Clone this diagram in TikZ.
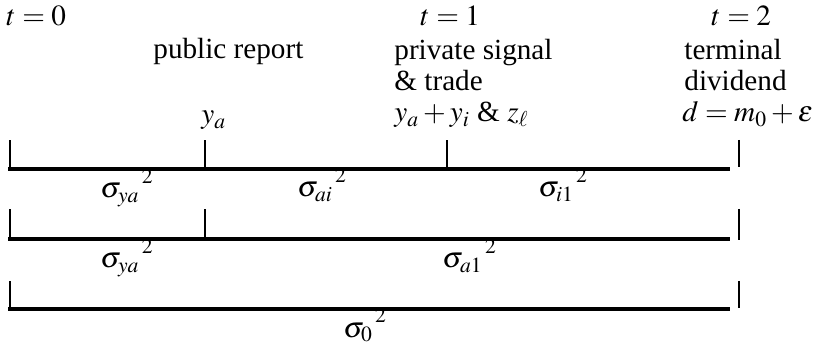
\documentclass[tikz,border=0pt]{standalone}
\usepackage{mathptmx}
\usepackage{fontspec}
\setmainfont{Liberation Serif}
\usetikzlibrary{positioning}
\newcommand{\varsq}[1]{${\sigma_{#1}}^{\,\raisebox{2pt}{$\scriptstyle 2$}}$}

\begin{document}
\begin{tikzpicture}[x=0.5pt, y=-0.5pt, font=\fontsize{14.6}{15.5}\selectfont,
  bar/.style={line width=1.6pt},
  tickline/.style={line width=0.8pt},
  txt/.style={inner sep=0pt, anchor=base west}]
\useasboundingbox (0,0) rectangle (814,347);

% dates
\node[txt] (t0) at (6,26) {$t = 0$};
\node[txt] (t1) at (420,26) {$t = 1$};
\node[txt] (t2) at (711,26) {$t = 2$};

% events
\node[txt] (pub) at (153,59) {public report};
\node[txt] (ya) at (201,124) {$y_a$};
\node[txt] (priv) at (394,60) {private signal};
\node[txt] (trade) at (394,91) {\& trade};
\node[txt] (sig) at (394,122) {$y_a + y_i$ \& $z_\ell$};
\node[txt] (term) at (684,60) {terminal};
\node[txt] (div) at (684,91) {dividend};
\node[txt] (dd) at (682,122) {$d = m_0 + \varepsilon$};

% first line
\coordinate (a0) at (8,169);
\coordinate (a1) at (205,169);
\coordinate (a2) at (447,169);
\coordinate (a3) at (730,169);
\draw[bar] (a0) -- (a3);
\draw[tickline] (a0) ++(2,0) -- ++(0,-29);
\draw[tickline] (a1) -- ++(0,-29);
\draw[tickline] (a2) -- ++(0,-29);
\draw[tickline] (739,140) -- (739,167);
\node[txt] (v1) at (100,198) {\varsq{ya}};
\node[txt] (v2) at (297,197) {\varsq{ai}};
\node[txt] (v3) at (538,197) {\varsq{i1}};

% second line
\coordinate (b0) at (8,239);
\coordinate (b1) at (205,239);
\coordinate (b3) at (730,239);
\draw[bar] (b0) -- (b3);
\draw[tickline] (b0) ++(2,0) -- ++(0,-30);
\draw[tickline] (b1) -- ++(0,-30);
\draw[tickline] (739,209) -- (739,240);
\node[txt] (v4) at (100,268) {\varsq{ya}};
\node[txt] (v5) at (442,268) {\varsq{a1}};

% third line
\coordinate (c0) at (8,309);
\coordinate (c3) at (730,309);
\draw[bar] (c0) -- (c3);
\draw[tickline] (c0) ++(2,0) -- ++(0,-28);
\draw[tickline] (739,281) -- (739,308);
\node[txt] (v6) at (343,337) {\varsq{0}};
\end{tikzpicture}
\end{document}
